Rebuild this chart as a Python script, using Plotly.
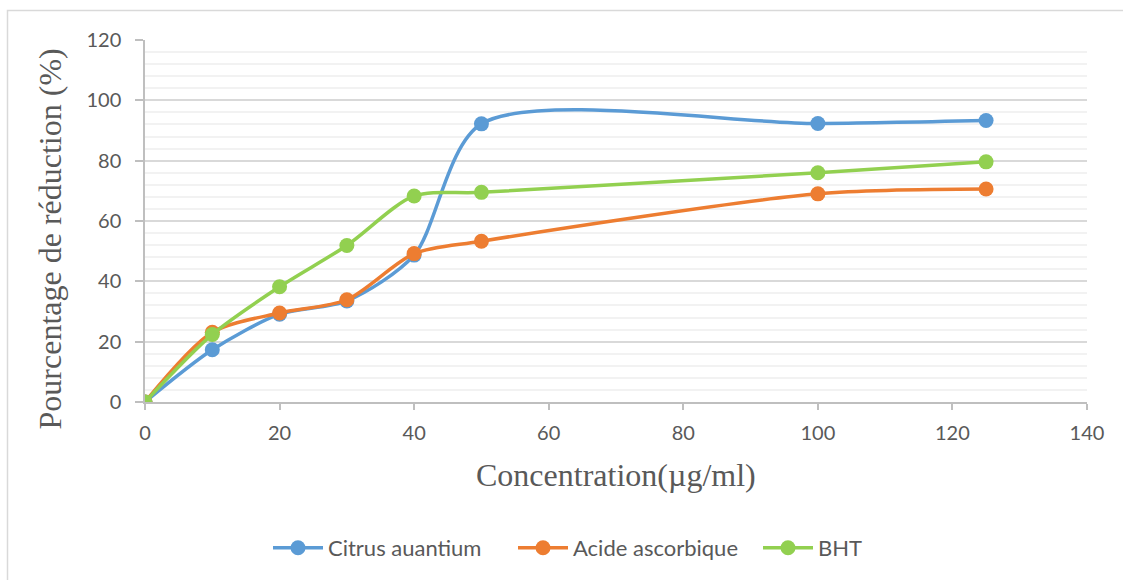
import plotly.graph_objects as go

concentration = [0, 10, 20, 30, 40, 50, 100, 125]
citrus = [0, 17.3, 29.1, 33.5, 48.7, 92.2, 92.3, 93.3]
acide = [0, 23.1, 29.5, 33.9, 49.2, 53.3, 69.0, 70.6]
bht = [0, 22.4, 38.2, 51.9, 68.3, 69.5, 76.0, 79.6]

names = ["Citrus auantium", "Acide ascorbique", "BHT"]
colors = ["#5B9BD5", "#ED7D31", "#92D050"]
series = [citrus, acide, bht]

x_title = "Concentration(µg/ml)"
y_title = "Pourcentage de réduction (%)"

W, H = 1123, 580
L, R, T, B = 145, 1087, 40, 403

fig = go.Figure()
for name, col, ys in zip(names, colors, series):
    fig.add_trace(go.Scatter(
        x=concentration, y=ys, name=name, mode="lines+markers",
        line=dict(color=col, width=3.5, shape="spline", smoothing=0.8),
        marker=dict(color=col, size=15),
    ))

pw, ph = R - L, B - T
fig.add_shape(type="rect", xref="paper", yref="paper",
              x0=(7.5 - L) / pw, x1=(1130 - L) / pw,
              y0=(B - 590) / ph, y1=(B - 10.5) / ph,
              line=dict(color="#D9D9D9", width=1.5), fillcolor="rgba(0,0,0,0)", layer="below")

titlefont = dict(family="Liberation Serif", size=32, color="#595959")
fig.add_annotation(text=x_title, xref="paper", yref="paper",
                   x=(616 - L) / pw, y=(B - 476) / ph, xanchor="center", yanchor="middle",
                   showarrow=False, font=titlefont)
fig.add_annotation(text=y_title, xref="paper", yref="paper", textangle=-90,
                   x=(50 - L) / pw, y=(B - 240) / ph, xanchor="center", yanchor="middle",
                   showarrow=False, font=dict(family="Liberation Serif", size=32, color="#595959"))

tickfont = dict(family="Lato", size=20, color="#595959")
fig.update_layout(
    width=W, height=H,
    margin=dict(l=L, r=W - R, t=T, b=H - B),
    paper_bgcolor="white", plot_bgcolor="white",
    showlegend=True,
    legend=dict(orientation="h", x=(268 - L) / pw, xanchor="left", y=(B - 548) / ph, yanchor="middle",
                font=dict(family="Lato", size=22, color="#595959"),
                itemwidth=50, entrywidth=180, tracegroupgap=0),
    xaxis=dict(range=[0, 140], tick0=0, dtick=20, showgrid=False,
               showline=True, linecolor="#BFBFBF", linewidth=1.5,
               ticks="outside", ticklen=6, tickcolor="#BFBFBF", tickwidth=1.5,
               tickfont=tickfont, zeroline=False, ticklabelstandoff=6),
    yaxis=dict(range=[0, 120], tick0=0, dtick=20, showgrid=True,
               gridcolor="#D9D9D9", gridwidth=1.5,
               minor=dict(dtick=4, showgrid=True, gridcolor="#F2F2F2", gridwidth=1.5),
               showline=True, linecolor="#BFBFBF", linewidth=1.5,
               ticks="outside", ticklen=8, tickcolor="#BFBFBF", tickwidth=1.5,
               tickfont=tickfont, zeroline=False, ticklabelstandoff=10),
)

fig.write_html("out.html")
